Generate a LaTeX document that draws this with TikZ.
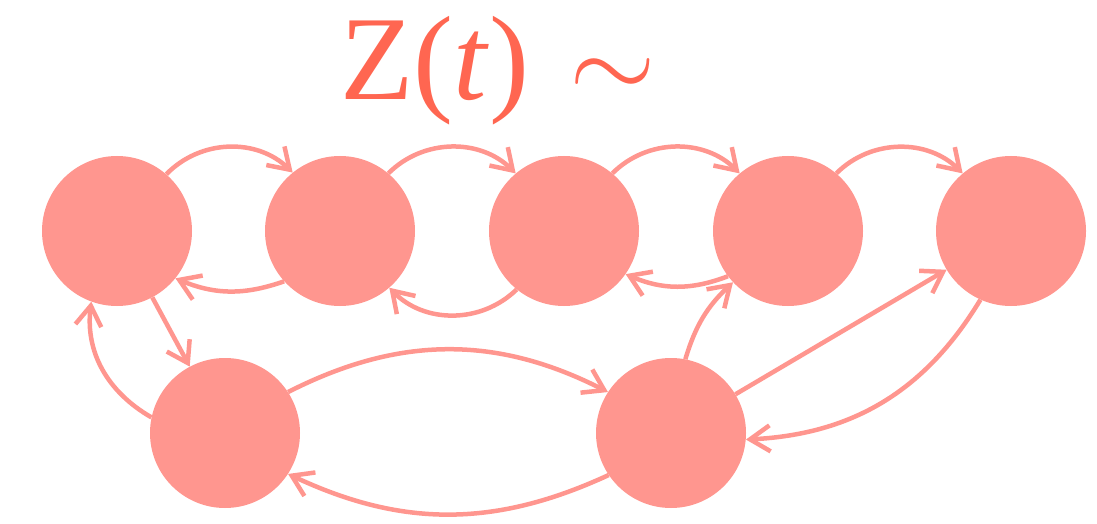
\documentclass[tikz,border=0pt]{standalone}
\usepackage{fontspec}
\usepackage{unicode-math}
\setmainfont{Liberation Serif}
\setmathfont{Latin Modern Math}
\usetikzlibrary{arrows.meta}
\definecolor{nodecol}{HTML}{FF968F}
\definecolor{titlecol}{HTML}{FF6651}
\begin{document}
\begin{tikzpicture}[x=1pt,y=1pt,
  state/.style={circle,fill=nodecol,inner sep=0pt,minimum size=150pt},
  arr/.style={draw=nodecol,line width=4.5pt,
    -{Straight Barb[length=20pt,width=26pt,line cap=butt,line join=miter]}}]
\useasboundingbox (0,0) rectangle (1097,523);
\node[anchor=base west,text=titlecol,font=\fontsize{120}{120}\selectfont,inner sep=0pt] (title) at (340,423) {Z(\textit{t})\hspace{40pt}{\fontsize{112}{112}\selectfont$\sim$}};
\node[state] (n1) at (117,292) {};
\node[state] (n2) at (340,292) {};
\node[state] (n3) at (564,292) {};
\node[state] (n4) at (788,292) {};
\node[state] (n5) at (1011,292) {};
\node[state] (b1) at (225,90) {};
\node[state] (b2) at (671,90) {};
\draw[arr] (n1.49) to[bend left=45] (n2.129);
\draw[arr] (n2.50) to[bend left=45] (n3.130);
\draw[arr] (n3.50) to[bend left=45] (n4.130);
\draw[arr] (n4.50) to[bend left=45] (n5.130);
\draw[arr] (n2.-138) to[bend left=21] (n1.-39);
\draw[arr] (n3.-129) to[bend left=45] (n2.-49);
\draw[arr] (n4.-143) to[bend left=22] (n3.-35);
\draw[arr] (n1.-62) -- (b1.118);
\draw[arr] (b1.168) to[out=150,in=-97] (n1.-110);
\draw[arr] (b1.33) to[bend left=27] (b2.147);
\draw[arr] (b2.-146) to[bend left=25] (b1.-33);
\draw[arr] (b2.79) to[bend left=15] (n4.-137);
\draw[arr] (b2.31) -- (n5.-149);
\draw[arr] (n5.-114) to[bend left=28] (b2.-5);
\end{tikzpicture}
\end{document}
